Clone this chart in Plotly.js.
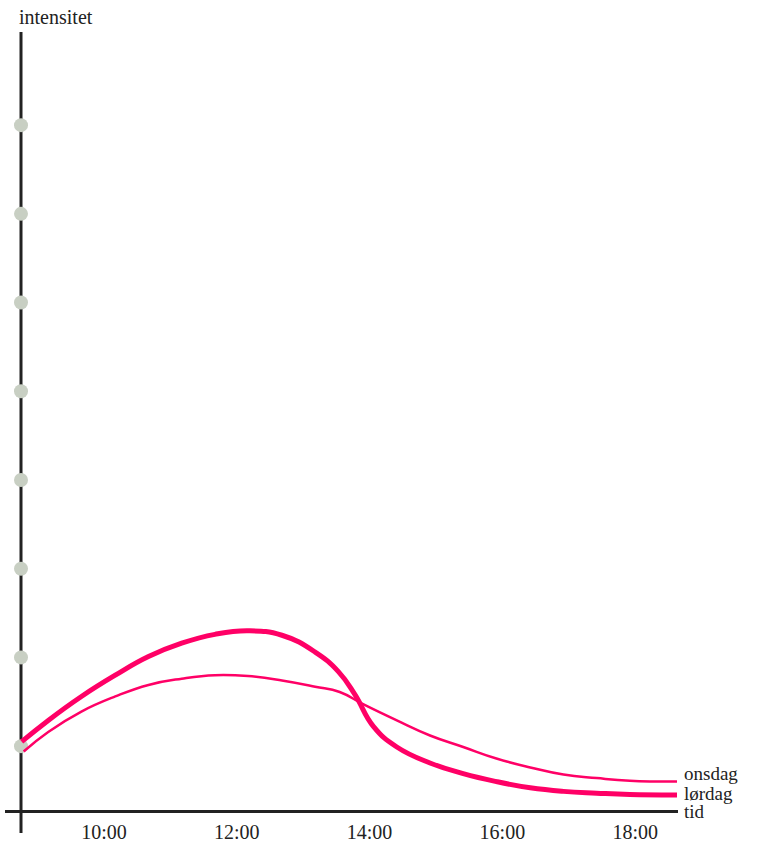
<!DOCTYPE html>
<html>
<head>
<meta charset="utf-8">
<script src="https://cdn.plot.ly/plotly-3.0.1.min.js"></script>
<style>html,body{margin:0;padding:0;background:#fff;}#chart{width:761px;height:845px;}</style>
</head>
<body>
<div id="chart"></div>
<script>
// x values in hours of the day, y values in intensity units (grey dots = 1..8)
const tickHours = [10, 12, 14, 16, 18];
const tickLabels = ['10:00', '12:00', '14:00', '16:00', '18:00'];
const dotLevels = [1, 2, 3, 4, 5, 6, 7, 8];

const timeLordag = [8.76, 9.16, 9.66, 10.17, 10.67, 11.17, 11.67, 12.17, 12.68, 13.18, 13.53, 13.78, 14.06, 14.41, 14.91, 15.41, 15.91, 16.42, 16.92, 17.42, 17.92, 18.63];
const lordag     = [1.05, 1.29, 1.56, 1.80, 2.01, 2.16, 2.26, 2.30, 2.25, 2.06, 1.84, 1.58, 1.22, 0.99, 0.81, 0.69, 0.60, 0.53, 0.49, 0.47, 0.455, 0.45];

const timeOnsdag = [8.79, 9.16, 9.66, 10.17, 10.67, 11.17, 11.67, 12.17, 12.68, 13.18, 13.55, 13.91, 14.41, 14.91, 15.41, 15.91, 16.42, 16.92, 17.42, 17.92, 18.63];
const onsdag     = [0.94, 1.16, 1.39, 1.56, 1.69, 1.76, 1.80, 1.79, 1.74, 1.67, 1.61, 1.47, 1.29, 1.12, 0.99, 0.86, 0.76, 0.68, 0.64, 0.61, 0.60];

const seriesNames = ['onsdag', 'lørdag'];
const axisX = 8.75;

const font = 'Liberation Serif, Times New Roman, serif';
const pink = '#ff0066';

const traces = [
  {
    x: dotLevels.map(() => axisX), y: dotLevels,
    mode: 'markers', type: 'scatter', cliponaxis: false, hoverinfo: 'skip',
    marker: {size: 14, color: '#c8cfc3'}
  },
  {
    x: timeOnsdag, y: onsdag, name: seriesNames[0],
    mode: 'lines', type: 'scatter', cliponaxis: false,
    line: {color: pink, width: 2.5, shape: 'spline', smoothing: 1.3}
  },
  {
    x: timeLordag, y: lordag, name: seriesNames[1],
    mode: 'lines', type: 'scatter', cliponaxis: false,
    line: {color: pink, width: 5, shape: 'spline', smoothing: 1.3}
  }
];

const layout = {
  width: 761, height: 845,
  margin: {l: 5, r: 83, t: 32, b: 35},
  paper_bgcolor: '#ffffff', plot_bgcolor: '#ffffff',
  showlegend: false,
  font: {family: font, size: 20, color: '#222'},
  xaxis: {
    range: [8.509, 18.645],
    showgrid: false, zeroline: false,
    showline: true, linecolor: '#222', linewidth: 3,
    tickvals: tickHours, ticktext: tickLabels,
    ticks: '', ticklabelstandoff: 2,
    tickfont: {family: font, size: 20, color: '#222'}
  },
  yaxis: {
    range: [0.28, 9.05],
    showgrid: false, zeroline: false, showline: false,
    showticklabels: false, ticks: ''
  },
  shapes: [
    {type: 'line', xref: 'paper', yref: 'paper', x0: 16/673, x1: 16/673, y0: -23/778, y1: 1,
     line: {color: '#222', width: 3}, layer: 'below'}
  ],
  annotations: [
    {text: 'intensitet', xref: 'paper', yref: 'paper', x: 12/673, y: (810-17)/778,
     xanchor: 'left', yanchor: 'middle', showarrow: false, font: {family: font, size: 20, color: '#222'}},
    {text: seriesNames[0], xref: 'paper', yref: 'paper', x: 1.006, y: 37/778,
     xanchor: 'left', yanchor: 'middle', showarrow: false, font: {family: font, size: 19, color: '#222'}},
    {text: seriesNames[1], xref: 'paper', yref: 'paper', x: 1.006, y: 17/778,
     xanchor: 'left', yanchor: 'middle', showarrow: false, font: {family: font, size: 19, color: '#222'}},
    {text: 'tid', xref: 'paper', yref: 'paper', x: 1.006, y: -2/778,
     xanchor: 'left', yanchor: 'middle', showarrow: false, font: {family: font, size: 19, color: '#222'}}
  ]
};

Plotly.newPlot('chart', traces, layout, {displayModeBar: false, staticPlot: true});
</script>
</body>
</html>
